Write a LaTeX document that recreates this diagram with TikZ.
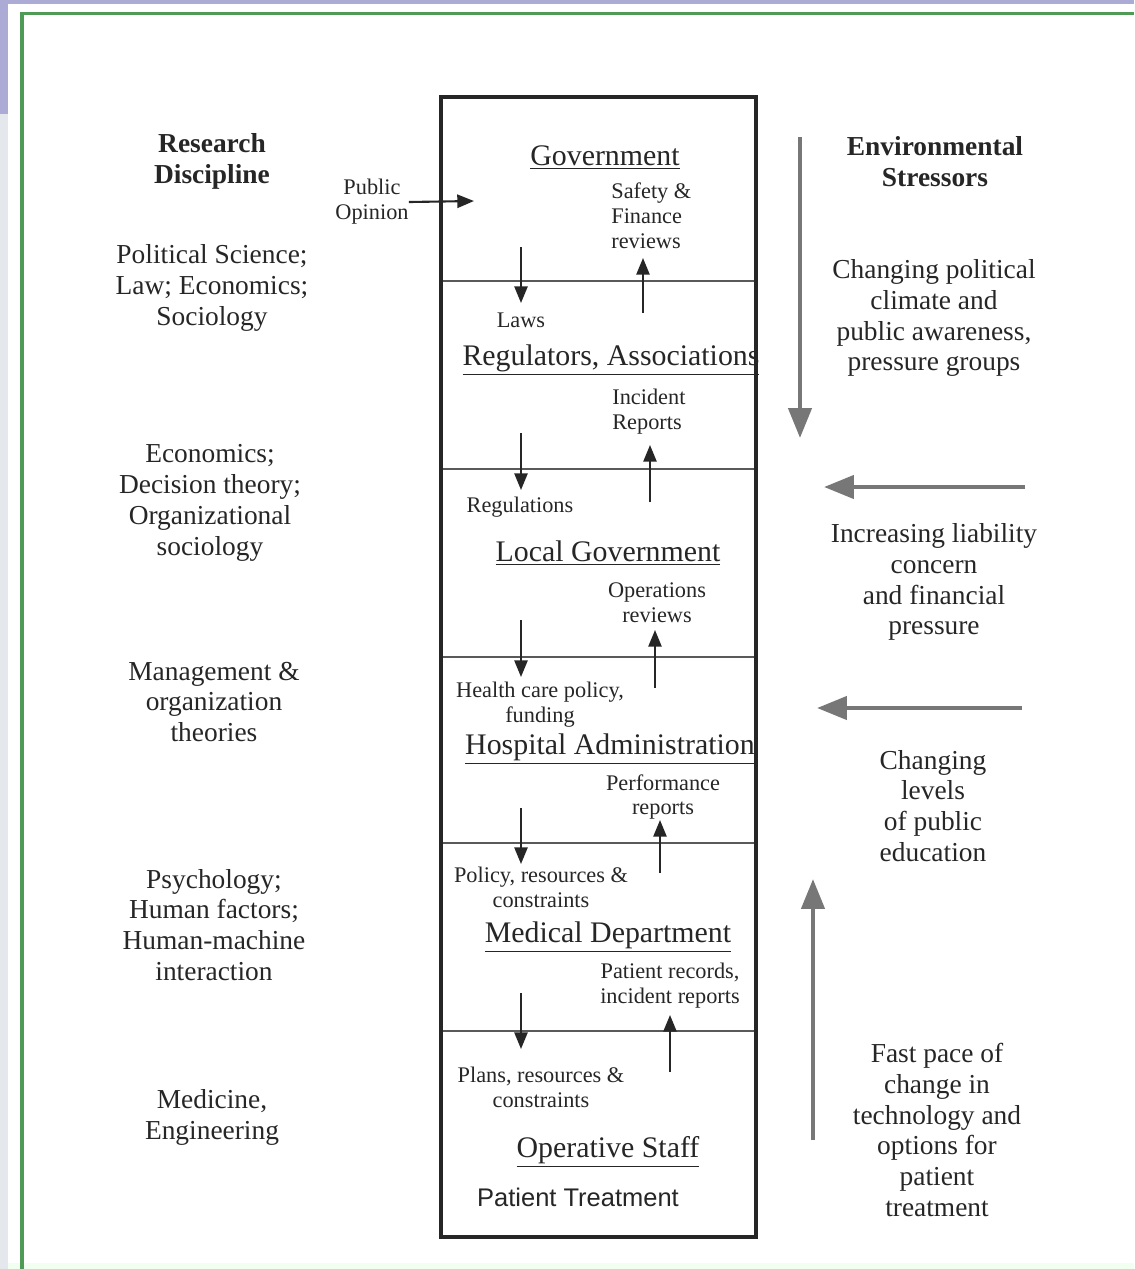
\documentclass[tikz,border=0pt]{standalone}
\usepackage{fontspec}
\setmainfont{Liberation Serif}
\newfontfamily\arialfont{Liberation Sans}
\usetikzlibrary{arrows.meta}

\definecolor{lav}{HTML}{ABABD6}
\definecolor{stripgray}{HTML}{E4E7EB}
\definecolor{framegreen}{HTML}{4F9A55}
\definecolor{txt}{HTML}{262626}
\definecolor{greyarrow}{HTML}{777777}

\tikzset{
  side/.style={font=\fontsize{15.6}{17.6}\selectfont, align=center, text=txt, inner sep=0pt},
  sidebold/.style={font=\fontsize{15.6}{17.6}\selectfont\bfseries, align=center, text=txt, inner sep=0pt},
  title/.style={font=\fontsize{17}{19}\selectfont, text=txt, inner sep=0pt},
  small/.style={font=\fontsize{12.7}{14.2}\selectfont, text=txt, inner sep=0pt},
  flow/.style={line width=1.2pt, draw=black!85, -{Triangle[width=7.5pt,length=9.5pt]}},
  stress/.style={line width=2.6pt, draw=greyarrow, -{Triangle[width=13pt,length=17pt]}},
  boxline/.style={line width=1.8pt, draw=black!85},
  divline/.style={line width=1.4pt, draw=black!65},
}

\begin{document}
\begin{tikzpicture}[x=0.02cm, y=-0.02cm]
\useasboundingbox (0,0) rectangle (1134,1269);
% background
\fill[white] (0,0) rectangle (1134,1269);
\fill[lav] (0,0) rectangle (1134,4);
\fill[lav] (0,0) rectangle (8,114);
\fill[stripgray] (0,114) rectangle (8,1269);
\fill[green!6] (8,1263) rectangle (1134,1269);
\draw[framegreen, line width=2.2pt] (22,1269) -- (22,13.5) -- (1134,13.5);

% left column
\node[sidebold] (rd) at (212,161) {Research\\Discipline};
\node[side] (l1) at (212,288) {Political Science;\\Law; Economics;\\Sociology};
\node[side] (l2) at (210,503) {Economics;\\Decision theory;\\Organizational\\sociology};
\node[side] (l3) at (214,702) {Management \&\\organization\\theories};
\node[side] (l4) at (214,925) {Psychology;\\Human factors;\\Human-machine\\interaction};
\node[side] (l5) at (212,1117) {Medicine,\\Engineering};

% right column
\node[sidebold] (es) at (935,162) {Environmental\\Stressors};
\node[side] (r1) at (934,318) {Changing political\\climate and\\public awareness,\\pressure groups};
\node[side] (r2) at (934,582) {Increasing liability\\concern\\and financial\\pressure};
\node[side] (r3) at (933,806) {Changing\\levels\\of public\\education};
\node[side] (r4) at (937,1130) {Fast pace of\\change in\\technology and\\options for\\patient\\treatment};

% stressor arrows
\coordinate (s1a) at (800,137); \coordinate (s1b) at (800,438);
\coordinate (s2a) at (1025,487); \coordinate (s2b) at (824,487);
\coordinate (s3a) at (1022,708); \coordinate (s3b) at (817,708);
\coordinate (s4a) at (813,1140); \coordinate (s4b) at (813,879);
\draw[stress] (s1a) -- (s1b);
\draw[stress] (s2a) -- (s2b);
\draw[stress] (s3a) -- (s3b);
\draw[stress] (s4a) -- (s4b);

% main box and dividers
\foreach \y in {281,469,657,843,1031}{
  \draw[divline] (441,\y) -- (756,\y);
}
\draw[boxline] (441,97) rectangle (756,1237);

% titles
\node[title] (gov) at (605,158) {\underline{Government}};
\node[title] (reg) at (611,360) {\underline{Regulators, Associations}};
\node[title] (loc) at (608,553) {\underline{Local Government}};
\node[title] (hos) at (610,749) {\underline{Hospital Administration}};
\node[title] (med) at (608,937) {\underline{Medical Department}};
\node[title] (ops) at (608,1152) {\underline{Operative Staff}};
\node[font=\arialfont\fontsize{14.5}{16}\selectfont, text=txt, inner sep=0pt] (pt) at (578,1197) {Patient Treatment};

% public opinion
\node[small, align=center] (po) at (372,202) {Public\\Opinion};
\coordinate (poT) at (474,201);
\draw[flow] (po.east) -- (poT);

% small labels
\node[small, align=left, anchor=west] (sfr) at (611,216) {Safety \&\\Finance\\reviews};
\node[small] (laws) at (521,320) {Laws};
\node[small, align=left, anchor=west] (inc) at (612,412) {Incident\\Reports};
\node[small] (regs) at (520,507) {Regulations};
\node[small, align=center] (opr) at (657,603) {Operations\\reviews};
\node[small, align=center] (hcp) at (540,705) {Health care policy,\\funding};
\node[small, align=center] (perf) at (663,797) {Performance\\reports};
\node[small, align=center] (prc) at (541,887) {Policy, resources \&\\constraints};
\node[small, align=center] (prec) at (670,986) {Patient records,\\incident reports};
\node[small, align=center] (plc) at (541,1087) {Plans, resources \&\\constraints};

% flow arrows
\coordinate (d1a) at (521,247);  \coordinate (d1b) at (521,303);
\coordinate (u1a) at (643,313);  \coordinate (u1b) at (643,258);
\coordinate (d2a) at (521,433);  \coordinate (d2b) at (521,490);
\coordinate (u2a) at (650,502);  \coordinate (u2b) at (650,445);
\coordinate (d3a) at (521,620);  \coordinate (d3b) at (521,677);
\coordinate (u3a) at (655,688);  \coordinate (u3b) at (655,630);
\coordinate (d4a) at (521,808);  \coordinate (d4b) at (521,864);
\coordinate (u4a) at (660,873);  \coordinate (u4b) at (660,820);
\coordinate (d5a) at (521,993);  \coordinate (d5b) at (521,1049);
\coordinate (u5a) at (670,1072); \coordinate (u5b) at (670,1015);
\foreach \p in {d1,u1,d2,u2,d3,u3,d4,u4,d5,u5}{
  \draw[flow] (\p a) -- (\p b);
}
\end{tikzpicture}
\end{document}
